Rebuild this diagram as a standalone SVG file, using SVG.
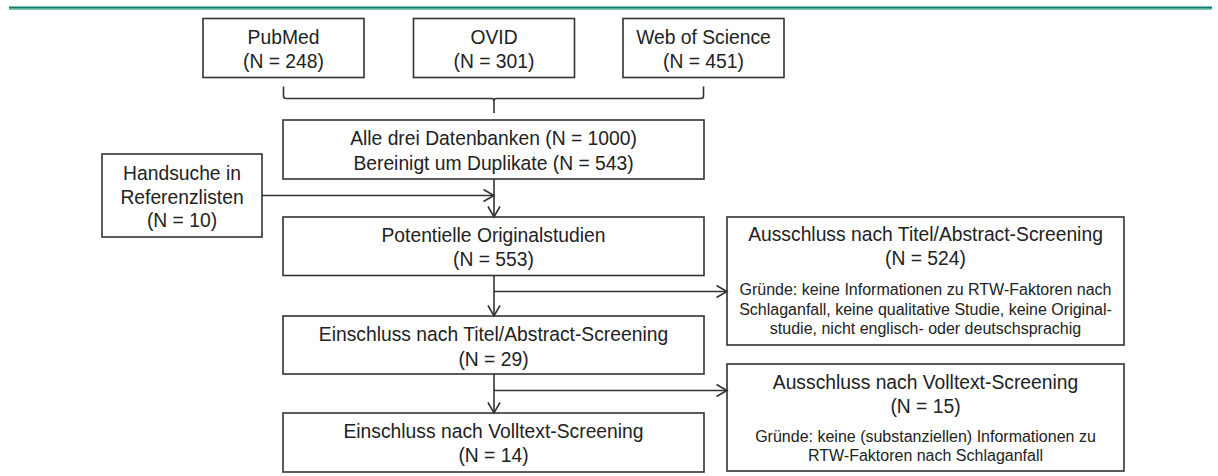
<svg xmlns="http://www.w3.org/2000/svg" width="1218" height="476" viewBox="0 0 1218 476">
<style>
.box{fill:#fff;stroke:#333;stroke-width:1.6}
.t{font-family:"Liberation Sans",Arial,sans-serif;font-size:19.3px;fill:#222;text-anchor:middle}
.s{font-family:"Liberation Sans",Arial,sans-serif;font-size:16px;fill:#222;text-anchor:middle}
.c{fill:none;stroke:#333;stroke-width:1.6}
</style>
<defs>
<marker id="ah" markerUnits="userSpaceOnUse" markerWidth="14" markerHeight="14" refX="10.5" refY="6" orient="auto" overflow="visible">
<path d="M0,0 L10.5,6 L0,12" fill="none" stroke="#333" stroke-width="1.6"/>
</marker>
</defs>
<rect width="1218" height="476" fill="#fff"/>
<g id="header">
<rect x="9" y="6.5" width="1203" height="2.2" fill="#0a7d6b"/>
<rect x="9" y="8.7" width="1203" height="1.1" fill="#5fb6a4"/>
</g>
<g id="pubmed"><rect class="box" x="203" y="18.5" width="161" height="59"/><text class="t" x="283.5" y="43.5">PubMed</text><text class="t" x="283.5" y="67.5">(N = 248)</text></g>
<g id="ovid"><rect class="box" x="413.5" y="18.5" width="161" height="59"/><text class="t" x="494" y="43.5">OVID</text><text class="t" x="494" y="67.5">(N = 301)</text></g>
<g id="wos"><rect class="box" x="623" y="18.5" width="161" height="59"/><text class="t" x="703.5" y="43.5">Web of Science</text><text class="t" x="703.5" y="67.5">(N = 451)</text></g>
<g id="alle"><rect class="box" x="283" y="120" width="421" height="59"/><text class="t" x="493.5" y="145">Alle drei Datenbanken (N = 1000)</text><text class="t" x="493.5" y="170">Bereinigt um Duplikate (N = 543)</text></g>
<g id="handsuche"><rect class="box" x="102" y="154" width="160" height="83"/><text class="t" x="182" y="180">Handsuche in</text><text class="t" x="182" y="203.5">Referenzlisten</text><text class="t" x="182" y="227">(N = 10)</text></g>
<g id="potentielle"><rect class="box" x="283" y="217" width="421" height="58.5"/><text class="t" x="493.5" y="242">Potentielle Originalstudien</text><text class="t" x="493.5" y="266">(N = 553)</text></g>
<g id="einschluss-ta"><rect class="box" x="283" y="316" width="421" height="58"/><text class="t" x="493.5" y="341">Einschluss nach Titel/Abstract-Screening</text><text class="t" x="493.5" y="365.5">(N = 29)</text></g>
<g id="einschluss-vt"><rect class="box" x="283" y="413" width="421" height="59"/><text class="t" x="493.5" y="438">Einschluss nach Volltext-Screening</text><text class="t" x="493.5" y="462">(N = 14)</text></g>
<g id="ausschluss-ta"><rect class="box" x="727" y="217" width="397" height="128"/><text class="t" x="925.5" y="241">Ausschluss nach Titel/Abstract-Screening</text><text class="t" x="925.5" y="265">(N = 524)</text><text class="s" x="925.5" y="295">Gründe: keine Informationen zu  RTW-Faktoren nach</text><text class="s" x="925.5" y="314.5">Schlaganfall, keine qualitative Studie, keine Original-</text><text class="s" x="925.5" y="334">studie, nicht englisch- oder deutschsprachig</text></g>
<g id="ausschluss-vt"><rect class="box" x="727" y="364" width="397" height="107"/><text class="t" x="925.5" y="389">Ausschluss nach Volltext-Screening</text><text class="t" x="925.5" y="413">(N = 15)</text><text class="s" x="925.5" y="441.5">Gründe: keine (substanziellen) Informationen zu</text><text class="s" x="925.5" y="461">RTW-Faktoren nach Schlaganfall</text></g>
<g id="connectors">
<path class="c" d="M283.5,86.5 V96 Q283.5,98.5 286,98.5 H491.5 Q494,98.5 494,101 V113 M494,101 Q494,98.5 496.5,98.5 H701 Q703.5,98.5 703.5,96 V86.5"/>
<path class="c" d="M262,195.5 H494" marker-end="url(#ah)"/>
<path class="c" d="M494,179 V217" marker-end="url(#ah)"/>
<path class="c" d="M494,275.5 V316" marker-end="url(#ah)"/>
<path class="c" d="M494,291.5 H727" marker-end="url(#ah)"/>
<path class="c" d="M494,374 V413" marker-end="url(#ah)"/>
<path class="c" d="M494,390.5 H727" marker-end="url(#ah)"/>
</g>
</svg>
